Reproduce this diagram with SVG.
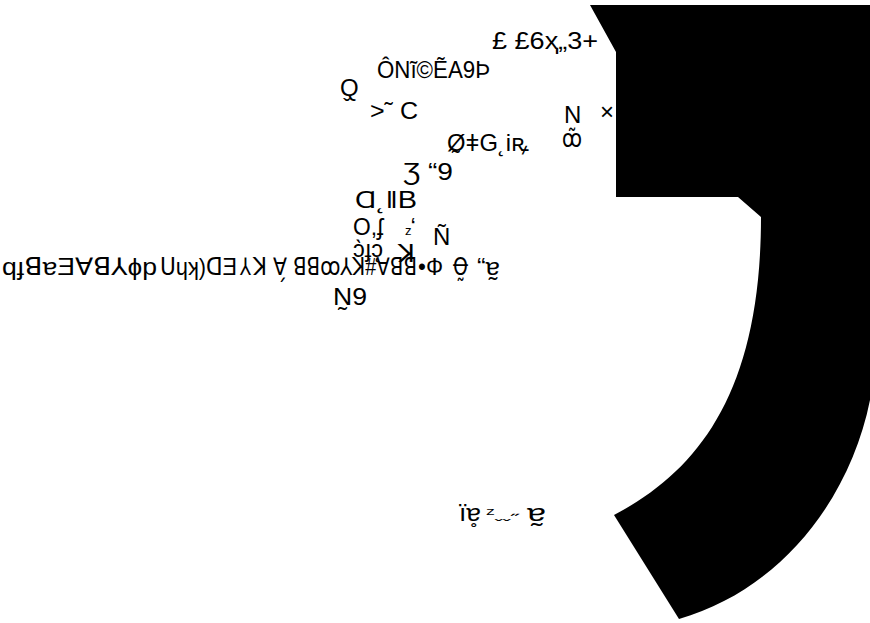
<svg xmlns="http://www.w3.org/2000/svg" width="870" height="623" viewBox="0 0 870 623">
<style>
  text { font-family: "Liberation Sans", "DejaVu Sans", "Noto Sans", sans-serif; fill: #000; font-size: 24px; direction: ltr; unicode-bidi: bidi-override; }
  .s { font-size: 14px; }
</style>
<rect width="870" height="623" fill="#fff"/>
<path d="M590,5 L870,5 L870,400 C850,500 780,590 679,619 L614,515 C700,470 761,390 761,217 L738,197 L616,197 L616,52 Z" fill="#000"/>
<text x="492" y="49" textLength="106" lengthAdjust="spacingAndGlyphs">£  £6ҳ„3+</text>
<text x="377" y="78" textLength="113" lengthAdjust="spacingAndGlyphs">ÔNĩ©ẼA9Þ</text>
<text x="340" y="96">Q̬</text>
<text x="370" y="119" textLength="48" lengthAdjust="spacingAndGlyphs">&gt;˜ C</text>
<text x="564" y="123">N</text>
<text x="600" y="120">×</text>
<text x="562" y="147" textLength="20" lengthAdjust="spacingAndGlyphs">ꝏ̃</text>
<text x="447" y="151" textLength="82" lengthAdjust="spacingAndGlyphs">ØǂG˛iꝶ</text>
<text x="403" y="180" textLength="50" lengthAdjust="spacingAndGlyphs">Ʒ “9</text>
<text x="452" y="167">˜</text>
<text x="355" y="208" textLength="62" lengthAdjust="spacingAndGlyphs">Ɑ˛ǁB</text>
<text x="353" y="235" textLength="30" lengthAdjust="spacingAndGlyphs">O,ʄ</text>
<text x="405" y="235"><tspan font-size="13">z</tspan><tspan dx="-1">‘</tspan></text>
<text x="433" y="245">Ñ</text>
<text x="353" y="257" textLength="30" lengthAdjust="spacingAndGlyphs">ɔ̀ɟɔ̨</text>
<text x="398" y="262" textLength="17" lengthAdjust="spacingAndGlyphs">ꓘ</text>
<text x="2" y="275" textLength="155" lengthAdjust="spacingAndGlyphs">qɟꓭɐƎ∀ꓭ⅄ɸp</text>
<text x="160" y="275" textLength="77" lengthAdjust="spacingAndGlyphs">ᑌɥʞ)ᗡƎ</text>
<text x="240" y="275" textLength="11" lengthAdjust="spacingAndGlyphs">⅄</text>
<text x="253" y="275" textLength="14" lengthAdjust="spacingAndGlyphs">ꓘ</text>
<text x="273" y="275" textLength="14" lengthAdjust="spacingAndGlyphs">∀̗</text>
<text x="293" y="275" textLength="124" lengthAdjust="spacingAndGlyphs">ꓭꓭꝏ⅄ꓘ#∀ꓭꓭ</text>
<text x="418" y="275" textLength="25" lengthAdjust="spacingAndGlyphs">•Ф</text>
<text x="453" y="275" textLength="15" lengthAdjust="spacingAndGlyphs">Ꝋ̰</text>
<text x="477" y="275" textLength="23" lengthAdjust="spacingAndGlyphs">“ɐ̰</text>
<text x="333" y="305" textLength="34" lengthAdjust="spacingAndGlyphs">N̰9</text>
<text x="459" y="521" textLength="22" lengthAdjust="spacingAndGlyphs">ïɐ̥</text>
<text class="s" x="486" y="518" textLength="33" lengthAdjust="spacingAndGlyphs">ᶻˬˬ˶</text>
<text x="527" y="521" textLength="19" lengthAdjust="spacingAndGlyphs">ɐ̰</text>
</svg>
